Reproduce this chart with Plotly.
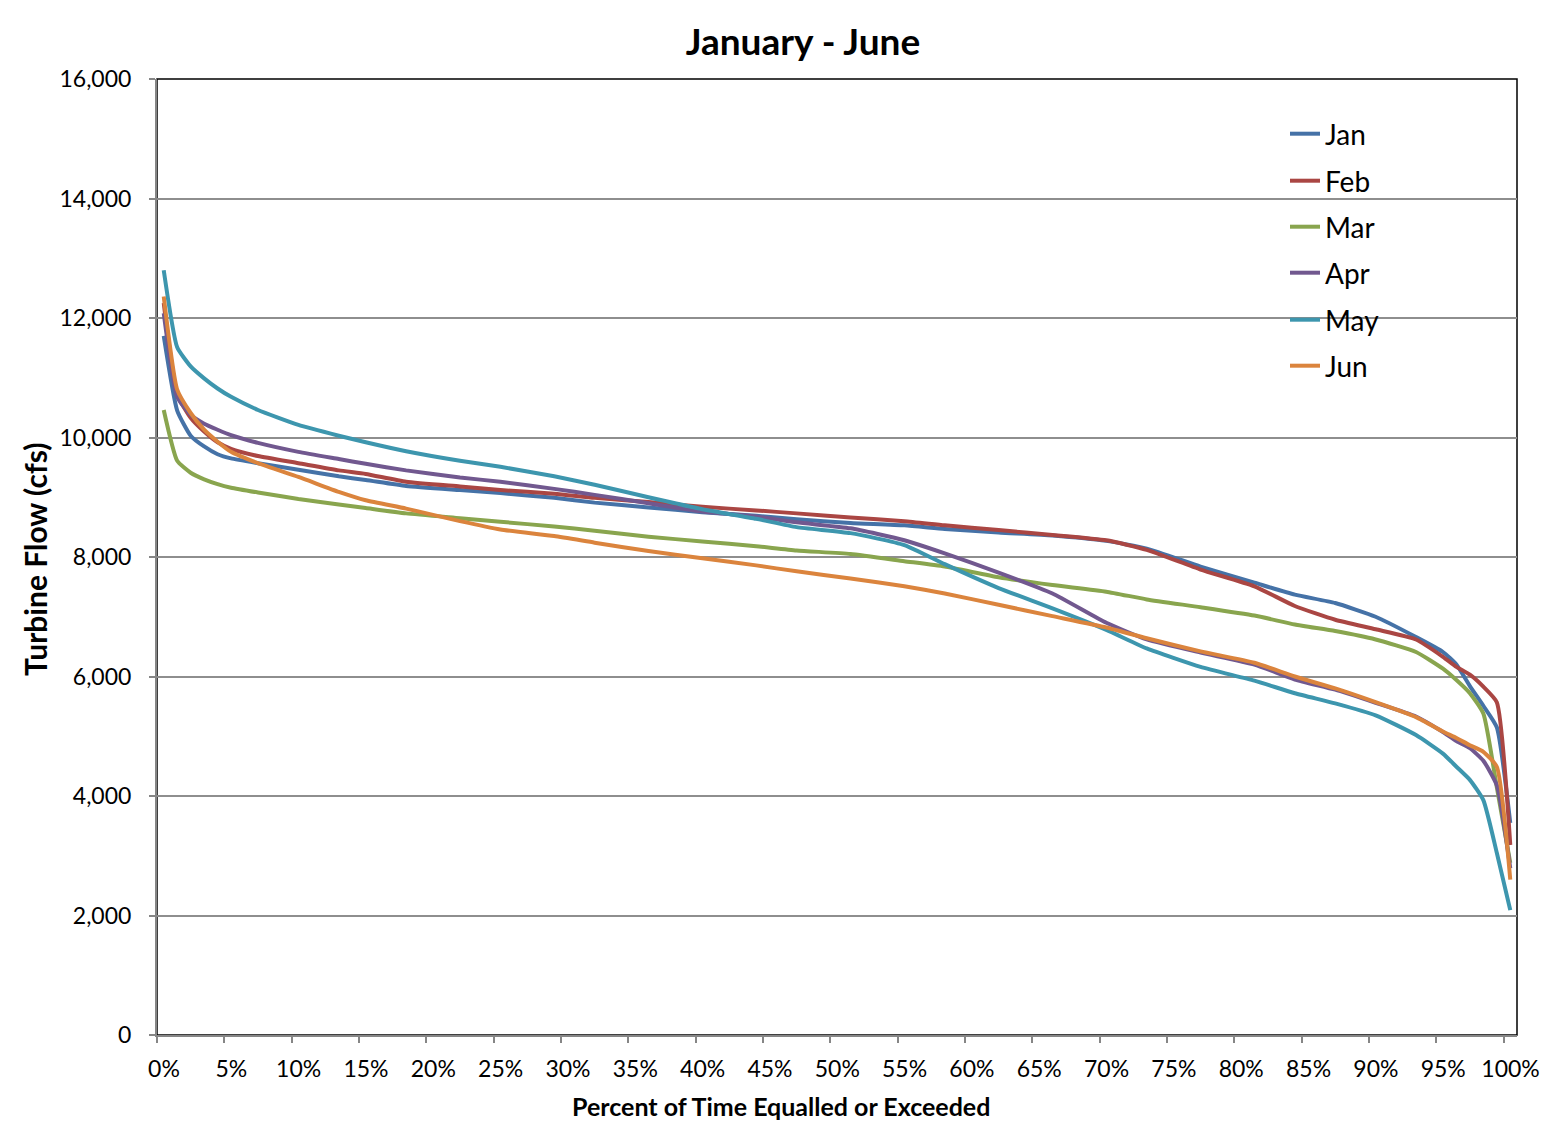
import plotly.graph_objects as go

# ---- data ----
percent = [0, 1, 2, 3, 4, 5, 7, 10, 13, 15, 18, 22, 25, 29, 32, 36, 40, 44, 47, 51,
           55, 58, 62, 66, 70, 73, 77, 81, 84, 87, 90, 93, 95, 96, 97, 98, 99, 100]

jan = [11700, 10450, 10030, 9850, 9720, 9650, 9570, 9460, 9350, 9290, 9190, 9120, 9070, 8990,
       8910, 8830, 8750, 8690, 8630, 8570, 8530, 8470, 8410, 8360, 8270, 8140, 7840, 7570,
       7370, 7230, 7000, 6660, 6410, 6200, 5840, 5510, 5150, 3550]
feb = [12250, 10720, 10330, 10100, 9920, 9810, 9690, 9570, 9450, 9390, 9260, 9180, 9120, 9060,
       8990, 8920, 8840, 8780, 8730, 8660, 8600, 8530, 8450, 8370, 8280, 8120, 7790, 7510,
       7180, 6950, 6790, 6620, 6330, 6160, 6030, 5830, 5570, 3180]
mar = [10460, 9610, 9410, 9300, 9220, 9160, 9080, 8970, 8880, 8820, 8730, 8650, 8590, 8510,
       8440, 8340, 8260, 8180, 8110, 8050, 7930, 7840, 7660, 7530, 7420, 7290, 7160, 7020,
       6870, 6760, 6620, 6410, 6130, 5940, 5720, 5380, 4150, 2880]
apr = [12080, 10680, 10380, 10230, 10130, 10040, 9910, 9760, 9640, 9560, 9450, 9330, 9260, 9140,
       9040, 8900, 8760, 8680, 8580, 8480, 8280, 8060, 7740, 7390, 6900, 6620, 6400, 6200,
       5950, 5780, 5560, 5330, 5070, 4920, 4800, 4590, 4180, 2790]
may = [12800, 11510, 11190, 10990, 10820, 10680, 10460, 10210, 10030, 9920, 9770, 9610, 9510, 9350,
       9210, 9000, 8800, 8640, 8500, 8400, 8200, 7880, 7480, 7140, 6780, 6470, 6160, 5930,
       5720, 5550, 5350, 5020, 4710, 4490, 4270, 3930, 3050, 2090]
jun = [12360, 10800, 10410, 10130, 9930, 9760, 9570, 9340, 9090, 8950, 8810, 8600, 8460, 8350,
       8240, 8100, 7980, 7860, 7760, 7640, 7510, 7390, 7200, 7010, 6820, 6640, 6420, 6230,
       6000, 5800, 5570, 5320, 5080, 4970, 4850, 4740, 4490, 2600]

series_names = ["Jan", "Feb", "Mar", "Apr", "May", "Jun"]
series_values = [jan, feb, mar, apr, may, jun]
colors = ["#4572A7", "#AA4643", "#89A54E", "#71588F", "#3D96AE", "#DB843D"]

x_tick_labels = [f"{v}%" for v in range(0, 101, 5)]
y_tick_vals = list(range(0, 16001, 2000))

FONT = "Lato, Carlito, Calibri, 'Open Sans', sans-serif"

# body margin is removed by post_script, so figure is drawn at (0, 0)
OFF = 0
W, H = 1557, 1124
# target plot area in page pixels
L_pg, R_pg, T_pg, B_pg = 157, 1517, 79, 1035
L, T = L_pg - OFF, T_pg - OFF
R = W - (R_pg - OFF)
Bm = H - (B_pg - OFF)
PW, PH = R_pg - L_pg, B_pg - T_pg


def px_x(xp):
    return (xp - L_pg) / PW


def px_y(yp):
    return (B_pg - yp) / PH


fig = go.Figure()
legend_y_px = [134, 181, 227, 273, 320, 366]
for i, (name, vals, col) in enumerate(zip(series_names, series_values, colors)):
    lg = "legend" if i == 0 else f"legend{i+1}"
    fig.add_trace(go.Scatter(
        x=percent, y=vals, mode="lines", name=name,
        line=dict(color=col, width=4, shape="spline", smoothing=0.5),
        legend=lg,
    ))

legend_common = dict(
    xanchor="left", yanchor="middle", bgcolor="rgba(0,0,0,0)",
    font=dict(family=FONT, size=28, color="#000000"),
    itemwidth=30,
)
layout_legends = {}
for i, ypx in enumerate(legend_y_px):
    key = "legend" if i == 0 else f"legend{i+1}"
    layout_legends[key] = dict(x=px_x(1285), y=px_y(ypx), **legend_common)

fig.update_layout(
    width=W, height=H,
    margin=dict(l=L, r=R, t=T, b=Bm, autoexpand=False),
    paper_bgcolor="white", plot_bgcolor="white",
    font=dict(family=FONT, size=23, color="#000000"),
    title=dict(text="<b>January - June</b>", x=((683 + 923) / 2 - OFF) / W, xanchor="center",
               y=1 - (42 - OFF) / H, yanchor="middle",
               font=dict(family=FONT, size=37, color="#000000")),
    showlegend=True,
    **layout_legends,
)

fig.update_xaxes(
    range=[-0.5, 100.5],
    tickmode="array",
    tickvals=[v - 0.5 for v in range(0, 101, 5)],
    ticktext=x_tick_labels,
    ticklabelshift=7,
    ticks="outside", ticklen=6, tickwidth=1.5, tickcolor="#868686",
    showline=True, linecolor="#868686", linewidth=2,
    showgrid=False, zeroline=False, automargin=False,
    tickfont=dict(family=FONT, size=23),
    ticklabelstandoff=6,
)
fig.update_yaxes(
    range=[0, 16000],
    tickmode="array", tickvals=y_tick_vals,
    ticktext=[f"{v:,}" for v in y_tick_vals],
    ticks="outside", ticklen=6, tickwidth=1.5, tickcolor="#868686",
    showline=True, linecolor="#868686", linewidth=2,
    showgrid=True, gridcolor="#8e8e8e", gridwidth=1.6,
    zeroline=False, automargin=False,
    tickfont=dict(family=FONT, size=23),
    ticklabelstandoff=13,
)

# axis titles
fig.add_annotation(text="<b>Percent of Time Equalled or Exceeded</b>",
                   xref="paper", yref="paper", x=px_x(781), y=px_y(1106),
                   xanchor="center", yanchor="middle", showarrow=False,
                   font=dict(family=FONT, size=25, color="#000000"))
fig.add_annotation(text="<b>Turbine Flow (cfs)</b>", textangle=-90,
                   xref="paper", yref="paper", x=px_x(35), y=px_y(560),
                   xanchor="center", yanchor="middle", showarrow=False,
                   font=dict(family=FONT, size=30, color="#000000"))

# plot-area border (top/right dark) and legend white box
fig.add_shape(type="rect", xref="paper", yref="paper", x0=0, x1=1, y0=0, y1=1,
              line=dict(color="#000000", width=1.5), layer="below")
fig.add_shape(type="rect", xref="paper", yref="paper",
              x0=px_x(1262), x1=px_x(1398), y0=px_y(392), y1=px_y(112),
              line=dict(width=0), fillcolor="white", layer="between")

fig.write_html(
    "out.html",
    config={"displayModeBar": False},
    post_script="document.body.style.margin='0';document.body.style.overflow='hidden';",
)
